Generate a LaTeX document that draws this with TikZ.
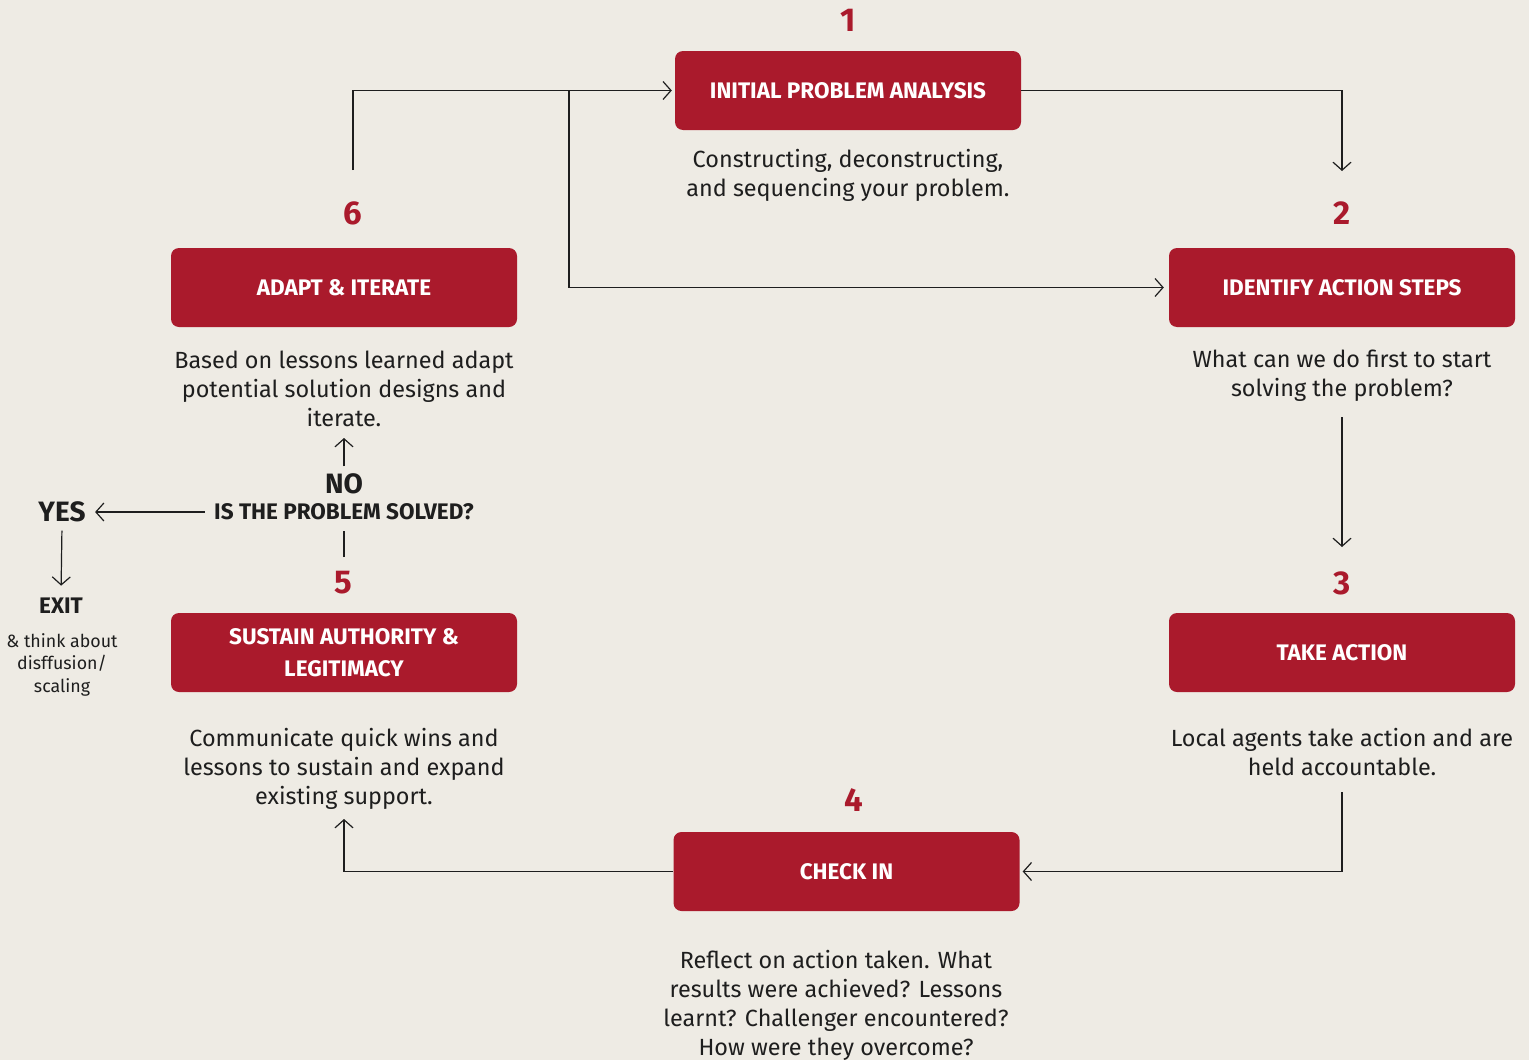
\documentclass[tikz,border=0pt]{standalone}
\usepackage{fontspec}
\setmainfont{Fira Sans}
\newfontfamily\headfont{Fira Sans}
\usetikzlibrary{arrows.meta, positioning}
\definecolor{bgcream}{HTML}{EEEBE4}
\definecolor{boxred}{HTML}{AA1A2C}
\definecolor{inkgray}{HTML}{1E1E1E}

\begin{document}
\begin{tikzpicture}[x=1pt, y=-1pt]
\tikzstyle{stepbox}=[rectangle, rounded corners=8pt, fill=boxred, text=white, minimum width=346pt, minimum height=79pt, align=center, font=\headfont\fontsize{22.5}{32}\selectfont\bfseries]
\tikzstyle{stepnum}=[text=boxred, font=\headfont\fontsize{33}{36}\selectfont\bfseries]
\tikzstyle{desc}=[align=center, text=inkgray, font=\fontsize{23.4}{29}\selectfont]
\tikzstyle{choice}=[text=inkgray, font=\headfont\fontsize{28}{30}\selectfont\bfseries]
\tikzstyle{ask}=[text=inkgray, font=\headfont\fontsize{22.5}{26}\selectfont\bfseries]
\tikzstyle{flow}=[line width=1.2pt, draw=inkgray, -{Straight Barb[length=8pt, width=18pt, line width=1.2pt]}]
\tikzstyle{plain}=[line width=1.2pt, draw=inkgray]

    \fill[bgcream] (0,0) rectangle (1529,1060);
    \useasboundingbox (0,0) rectangle (1529,1060);

    % the six steps
    \node (analysis) [stepbox] at (848,90.5) {INITIAL PROBLEM ANALYSIS};
    \node (identify) [stepbox] at (1342,287.5) {IDENTIFY ACTION STEPS};
    \node (action) [stepbox] at (1342,652.5) {TAKE ACTION};
    \node (checkin) [stepbox] at (846.5,871.5) {CHECK IN};
    \node (sustain) [stepbox] at (344,652.5) {SUSTAIN AUTHORITY \&\\LEGITIMACY};
    \node (adapt) [stepbox] at (344,287.5) {ADAPT \& ITERATE};

    \node (num1) [stepnum] at (848,20) {1};
    \node (num2) [stepnum] at (1342,213) {2};
    \node (num3) [stepnum] at (1342,583) {3};
    \node (num4) [stepnum] at (854,800) {4};
    \node (num5) [stepnum] at (343,583) {5};
    \node (num6) [stepnum] at (353,213) {6};

    \node (desc1) [desc] at (848,175) {Constructing, deconstructing,\\and sequencing your problem.};
    \node (desc2) [desc] at (1342,376) {What can we do first to start\\solving the problem?};
    \node (desc3) [desc] at (1342,752.5) {Local agents take action and are\\held accountable.};
    \node (desc4) [desc] at (836,1005) {Reflect on action taken. What\\results were achieved? Lessons\\learnt? Challenger encountered?\\How were they overcome?};
    \node (desc5) [desc] at (344,768.5) {Communicate quick wins and\\lessons to sustain and expand\\existing support.};
    \node (desc6) [desc] at (344,389) {Based on lessons learned adapt\\potential solution designs and\\iterate.};

    % the question after step 5
    \node (no) [choice] at (344,484) {NO};
    \node (solved) [ask] at (344,512) {IS THE PROBLEM SOLVED?};
    \node (yes) [choice] at (62,512) {YES};
    \node (exit) [ask] at (61,606) {EXIT};
    \node (think) [align=center, text=inkgray, font=\fontsize{17.8}{22.5}\selectfont] at (62,664.5) {\& think about\\disffusion/\\scaling};

    \coordinate (in2) at (1342,171);
    \coordinate (out2) at (1342,417);
    \coordinate (in3) at (1342,547);
    \coordinate (out3) at (1342,792);
    \coordinate (in5) at (344,819);
    \coordinate (out6) at (353,170);
    \coordinate (split) at (569,90.5);
    \coordinate (in6) at (344,438);
    \coordinate (up5) at (344,557);
    \coordinate (up5top) at (344,531);

    \draw[flow] (analysis.east) -| (in2);
    \draw[flow] (out2) -- (in3);
    \draw[flow, shorten >=3pt] (out3) |- (checkin.east);
    \draw[flow] (checkin.west) -| (in5);
    \draw[flow, shorten >=3pt] (out6) |- (analysis.west);
    \draw[flow, shorten >=5pt] (split) |- (identify.west);
    \draw[flow, shorten <=4pt] (no.north) -- (in6);
    \draw[plain] (up5) -- (up5top);
    \draw[flow, shorten <=6pt, shorten >=6pt] (solved.west) -- (yes.east);
    \draw[flow, shorten <=5pt, shorten >=9pt] (yes.south) -- (exit.north);
\end{tikzpicture}
\end{document}
